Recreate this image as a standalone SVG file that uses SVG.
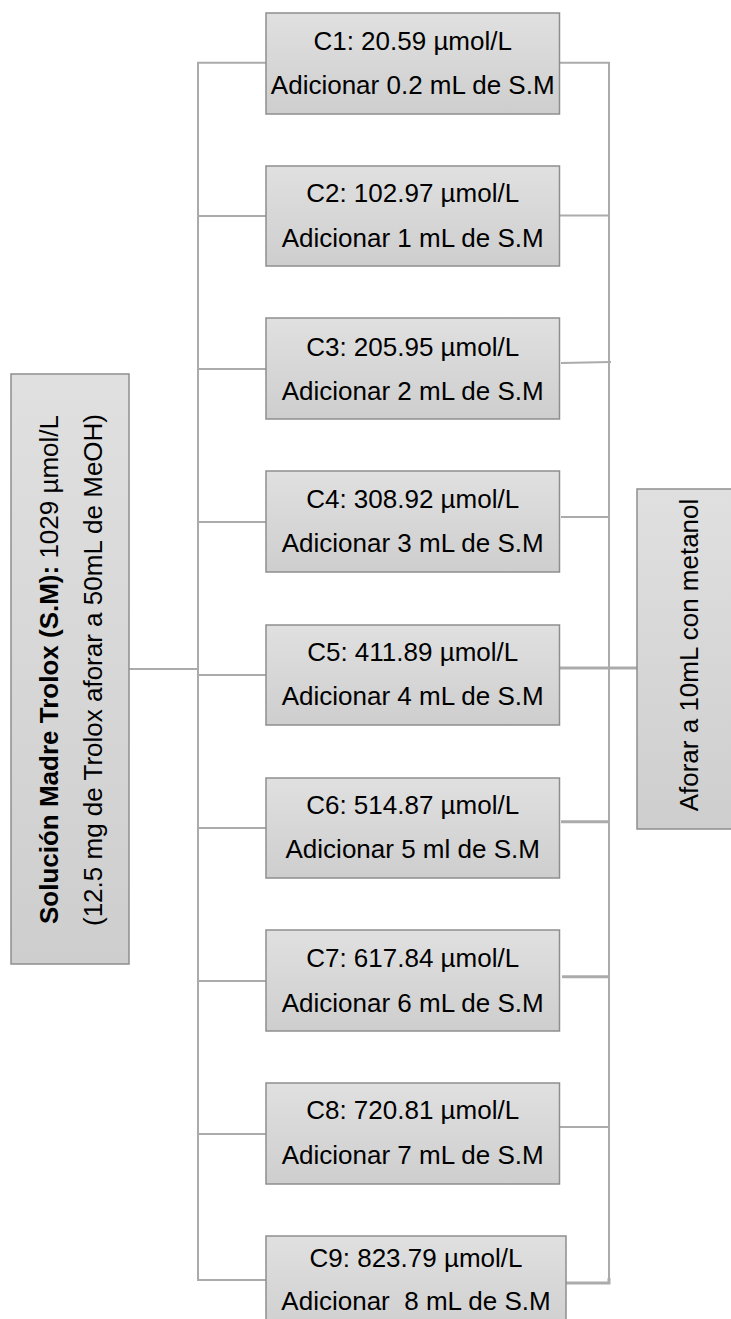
<svg xmlns="http://www.w3.org/2000/svg" width="731" height="1319" viewBox="0 0 731 1319">
  <defs>
    <linearGradient id="boxFill" x1="0" y1="0" x2="0" y2="1">
      <stop offset="0" stop-color="#e0e0e0"/>
      <stop offset="1" stop-color="#cecece"/>
    </linearGradient>
    <style>
      .box { fill: url(#boxFill); stroke: #8e8e8e; stroke-width: 1.5; }
      .lbl { font-family: "Liberation Sans", Arial, sans-serif; font-size: 26px; fill: #000; text-anchor: middle; }
      .con { fill: none; stroke: #ababab; stroke-width: 2; }
      .con3 { fill: none; stroke: #ababab; stroke-width: 3; }
    </style>
  </defs>
  <rect width="731" height="1319" fill="#fff"/>

  <g id="connectors">
    <!-- left trunk -->
    <polyline class="con" points="266,62.7 198,62.7 198,1280 266,1280"/>
    <line class="con" x1="198" y1="216" x2="266" y2="216"/>
    <line class="con" x1="198" y1="369" x2="266" y2="369"/>
    <line class="con" x1="198" y1="522" x2="266" y2="522"/>
    <line class="con" x1="198" y1="675" x2="266" y2="675"/>
    <line class="con" x1="198" y1="828" x2="266" y2="828"/>
    <line class="con" x1="198" y1="981" x2="266" y2="981"/>
    <line class="con" x1="198" y1="1134" x2="266" y2="1134"/>
    <line class="con" x1="129" y1="669" x2="198" y2="669"/>
    <!-- right trunk -->
    <polyline class="con" points="559,62.7 609,62.7 609,1283"/>
    <line class="con" x1="559" y1="215.5" x2="609" y2="215.5"/>
    <line class="con" x1="561" y1="363" x2="611" y2="362"/>
    <line class="con" x1="561" y1="517" x2="609" y2="517"/>
    <line class="con3" x1="559" y1="668" x2="637" y2="668"/>
    <line class="con3" x1="561" y1="821.7" x2="609" y2="821.7"/>
    <line class="con3" x1="562" y1="976.7" x2="610" y2="976.7"/>
    <line class="con" x1="559" y1="1127" x2="609" y2="1127"/>
    <polyline class="con3" points="566,1283 609,1283 609,1278"/>
  </g>

  <g id="stock">
    <rect class="box" x="11" y="374" width="118" height="590"/>
    <text class="lbl" transform="translate(58,669.5) rotate(-90)"><tspan font-weight="bold">Solución Madre Trolox (S.M):</tspan> 1029 µmol/L</text>
    <text class="lbl" transform="translate(101.5,670) rotate(-90)">(12.5 mg de Trolox aforar a 50mL de MeOH)</text>
  </g>

  <g id="c1">
    <rect class="box" x="266" y="13" width="293.5" height="101"/>
    <text class="lbl" x="412.7" y="50">C1: 20.59 µmol/L</text>
    <text class="lbl" x="412.7" y="94">Adicionar 0.2 mL de S.M</text>
  </g>
  <g id="c2">
    <rect class="box" x="266" y="166" width="293.5" height="100"/>
    <text class="lbl" x="412.7" y="202">C2: 102.97 µmol/L</text>
    <text class="lbl" x="412.7" y="247">Adicionar 1 mL de S.M</text>
  </g>
  <g id="c3">
    <rect class="box" x="266" y="318" width="293.5" height="101"/>
    <text class="lbl" x="412.7" y="355.5">C3: 205.95 µmol/L</text>
    <text class="lbl" x="412.7" y="400">Adicionar 2 mL de S.M</text>
  </g>
  <g id="c4">
    <rect class="box" x="266" y="471" width="293.5" height="101"/>
    <text class="lbl" x="412.7" y="508">C4: 308.92 µmol/L</text>
    <text class="lbl" x="412.7" y="552">Adicionar 3 mL de S.M</text>
  </g>
  <g id="c5">
    <rect class="box" x="266" y="625" width="293.5" height="100"/>
    <text class="lbl" x="412.7" y="661">C5: 411.89 µmol/L</text>
    <text class="lbl" x="412.7" y="705">Adicionar 4 mL de S.M</text>
  </g>
  <g id="c6">
    <rect class="box" x="266" y="778" width="293.5" height="100"/>
    <text class="lbl" x="412.7" y="814">C6: 514.87 µmol/L</text>
    <text class="lbl" x="412.7" y="858">Adicionar 5 ml de S.M</text>
  </g>
  <g id="c7">
    <rect class="box" x="266" y="930" width="293.5" height="101"/>
    <text class="lbl" x="412.7" y="967">C7: 617.84 µmol/L</text>
    <text class="lbl" x="412.7" y="1011.5">Adicionar 6 mL de S.M</text>
  </g>
  <g id="c8">
    <rect class="box" x="266" y="1083" width="293.5" height="101"/>
    <text class="lbl" x="412.7" y="1119">C8: 720.81 µmol/L</text>
    <text class="lbl" x="412.7" y="1164">Adicionar 7 mL de S.M</text>
  </g>
  <g id="c9">
    <rect class="box" x="266" y="1236" width="300" height="101"/>
    <text class="lbl" x="416" y="1267">C9: 823.79 µmol/L</text>
    <text class="lbl" x="416" y="1310" xml:space="preserve">Adicionar  8 mL de S.M</text>
  </g>

  <g id="final">
    <rect class="box" x="637" y="489" width="100" height="340"/>
    <text class="lbl" transform="translate(698,655) rotate(-90)">Aforar a 10mL con metanol</text>
  </g>
</svg>
